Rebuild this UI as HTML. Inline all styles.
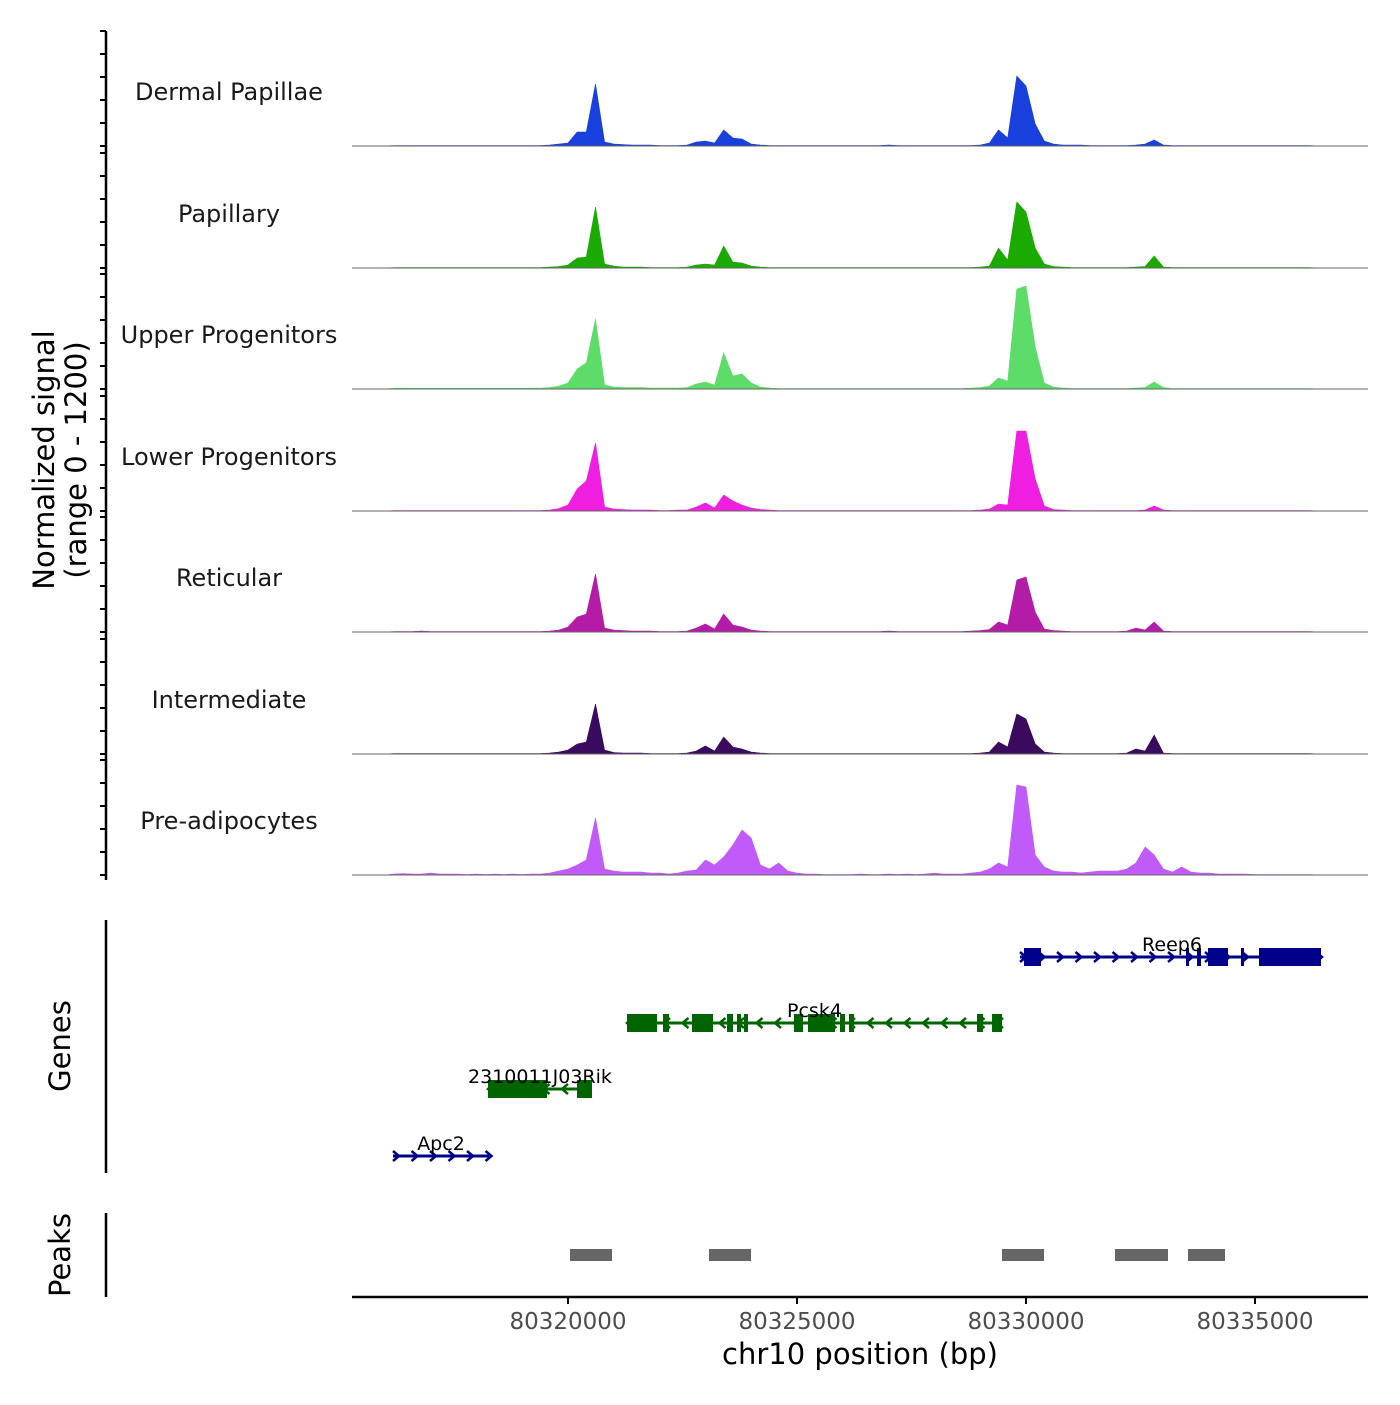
<!DOCTYPE html>
<html><head><meta charset="utf-8"><style>
body{margin:0;background:#fff}
svg text{font-family:"DejaVu Sans","Liberation Sans",sans-serif}
</style></head><body>
<svg id="chart" width="1400" height="1400" viewBox="0 0 1400 1400" xmlns="http://www.w3.org/2000/svg">
<rect width="1400" height="1400" fill="#fff"/>
<g id="tracks"></g>
<g id="genes"></g>
<g id="peaks"></g>
<g id="axes"></g>
<text transform="translate(54,460) rotate(-90)" text-anchor="middle" font-size="29" fill="#000">Normalized signal</text>
<text transform="translate(86,460) rotate(-90)" text-anchor="middle" font-size="29" fill="#000">(range 0 - 1200)</text>
<text transform="translate(70,1046) rotate(-90)" text-anchor="middle" font-size="29" fill="#000">Genes</text>
<text transform="translate(70,1255) rotate(-90)" text-anchor="middle" font-size="29" fill="#000">Peaks</text>
<text x="860" y="1364" text-anchor="middle" font-size="29" fill="#000">chr10 position (bp)</text>
</svg>
<script>
const binStart = 80316000;
const binStep = 200;
const trackNames = ["Dermal Papillae","Papillary","Upper Progenitors","Lower Progenitors","Reticular","Intermediate","Pre-adipocytes"];
const trackColors = ["#1740DD","#1AAA00","#5EDC6A","#F01EE0","#B41CA8","#3A0A5E","#C05AF8"];
const sigDermal = [0,5,5,5,5,5,5,5,5,5, 5,5,5,5,5,5,5,5,10,20, 30,140,140,620,40,20,15,10,10,10, 5,5,5,10,40,50,30,160,80,70, 20,10,5,5,5,5,5,5,5,5, 5,5,5,5,5,10,5,5,5,5, 5,5,5,5,5,10,30,160,80,700, 600,220,50,20,10,10,10,5,5,5, 5,5,10,20,60,10,5,5,5,5, 5,5,5,5,5,5,5,5,5,5, 5,5,0];
const sigPapillary = [0,5,5,5,5,5,5,5,5,5, 5,5,5,5,5,5,5,5,10,15, 30,100,110,610,40,20,10,10,10,5, 5,5,5,10,30,40,30,220,60,50, 20,10,5,5,5,5,5,5,5,5, 5,5,5,5,5,5,5,5,5,5, 5,5,5,5,5,10,20,200,80,660, 560,200,40,15,10,5,5,5,5,5, 5,5,10,15,120,10,5,5,5,5, 5,5,5,5,5,5,5,5,5,5, 5,5,0];
const sigUpper = [0,8,8,8,8,8,8,8,8,8, 8,8,8,8,8,8,8,8,15,30, 60,200,260,700,40,20,15,15,15,10, 10,10,10,15,50,70,40,360,130,150, 60,20,10,5,5,5,5,5,5,5, 5,5,5,5,5,5,5,5,5,5, 5,5,5,5,10,15,30,110,80,1000, 1030,420,60,20,10,5,5,5,5,5, 5,5,10,15,70,15,5,5,5,5, 5,5,5,5,5,5,5,5,5,5, 5,5,0];
const sigLower = [0,5,5,5,5,5,5,5,5,5, 5,5,5,5,5,5,5,5,10,25, 60,220,300,680,40,20,15,10,10,10, 5,5,10,10,40,80,30,160,100,60, 30,15,10,5,5,5,5,5,5,5, 5,5,5,5,5,5,5,5,5,5, 5,5,5,5,5,10,20,70,60,800, 800,320,50,15,10,5,5,5,5,5, 5,5,5,10,50,10,5,5,5,5, 5,5,5,5,5,5,5,5,5,5, 5,5,0];
const sigReticular = [0,5,5,5,10,5,5,5,5,5, 5,5,5,5,5,5,5,5,10,20, 50,150,180,580,40,20,15,10,10,10, 5,5,5,10,40,80,30,180,70,50, 20,10,5,5,5,5,5,5,5,5, 5,5,5,5,5,10,5,5,5,5, 5,5,5,5,10,15,25,100,70,520, 550,200,30,15,10,5,5,5,5,5, 5,10,40,20,100,10,5,5,5,5, 5,5,5,5,5,5,5,5,5,5, 5,5,0];
const sigIntermediate = [0,5,5,5,5,5,5,5,5,5, 5,5,5,5,5,5,5,5,10,20, 40,100,120,500,40,15,10,10,10,5, 5,5,5,10,30,80,30,170,70,50, 20,10,5,5,5,5,5,5,5,5, 5,5,5,5,5,5,5,5,5,5, 5,5,5,5,5,10,20,120,70,400, 350,100,20,10,5,5,5,5,5,5, 5,10,50,30,190,10,5,5,5,5, 5,5,5,5,5,5,5,5,5,5, 5,5,0];
const sigPreadipo = [0,10,15,10,10,20,10,10,10,5, 10,5,10,5,10,5,10,10,20,40, 60,100,150,570,60,40,30,30,30,20, 20,10,20,40,50,150,100,180,300,450, 370,100,60,120,40,20,10,10,5,5, 5,5,10,5,5,10,5,10,5,10, 20,10,10,10,20,30,60,120,80,900, 880,200,80,40,30,30,20,30,40,40, 40,60,120,280,200,60,30,80,30,20, 20,10,10,10,10,5,5,5,5,5, 5,5,0];
const allSignals = [sigDermal,sigPapillary,sigUpper,sigLower,sigReticular,sigIntermediate,sigPreadipo];
const xTicks = [80320000,80325000,80330000,80335000];
const geneNames = ["Reep6","Pcsk4","2310011J03Rik","Apc2"];
const geneStrand = [1,-1,-1,1];
const geneColors = ["#00008B","#006400","#006400","#00008B"];
const geneStart = [80329869,80321288,80318253,80316179];
const geneEnd = [80336441,80329476,80320524,80318275];
const geneExons = [
 [[80329956,80330327],[80333493,80333559],[80333734,80333821],[80333974,80334410],[80334694,80334759],[80335087,80336441]],
 [[80321288,80321943],[80322074,80322205],[80322707,80323166],[80323472,80323603],[80323690,80323777],[80323843,80323930],[80324934,80325131],[80325240,80325830],[80325939,80326048],[80326135,80326245],[80328930,80329061],[80329258,80329476]],
 [[80318253,80319541],[80320197,80320524]],
 []
];
const peakStart = [80320044,80323079,80329476,80331943,80333537];
const peakEnd = [80320961,80323996,80330393,80333100,80334345];

const NS="http://www.w3.org/2000/svg";
const X0=352,X1=1368,BP0=80315284,BP1=80337467;
function xs(bp){return X0+(bp-BP0)/(BP1-BP0)*(X1-X0);}
const baselines=[146,268,389,511,632,754,875];
function ys(v,i){return baselines[i]-v/1200*120;}
function mk(tag,attrs,parent){const e=document.createElementNS(NS,tag);for(const k in attrs)e.setAttribute(k,attrs[k]);parent.appendChild(e);return e;}

const tg=document.getElementById('tracks');
allSignals.forEach((sig,i)=>{
  let d='M'+xs(binStart)+','+baselines[i];
  sig.forEach((v,j)=>{d+=' L'+xs(binStart+j*binStep).toFixed(1)+','+ys(v,i).toFixed(1);});
  d+=' L'+xs(binStart+(sig.length-1)*binStep)+','+baselines[i]+' Z';
  const p=mk('path',{d:d,fill:trackColors[i],stroke:trackColors[i],'stroke-width':0.6},tg);
  
  
  const bl=mk('line',{x1:X0,x2:X1,y1:baselines[i],y2:baselines[i],stroke:'#666','stroke-width':1},tg);
  
  
  const t=mk('text',{x:229,y:baselines[i]-46,'text-anchor':'middle','font-size':24,fill:'#1a1a1a'},tg);
  t.textContent=trackNames[i];
  
  
});

const gg=document.getElementById('genes');
const geneY=[957,1023,1089,1156];
geneNames.forEach((n,i)=>{
  const y=geneY[i],c=geneColors[i];
  const ln=mk('line',{x1:xs(geneStart[i]),x2:xs(geneEnd[i]),y1:y,y2:y,stroke:c,'stroke-width':3},gg);
  
  
  const a=xs(geneStart[i]),b=xs(geneEnd[i]);
  for(let x=a+3;x<=b;x+=18.5){
    const s=geneStrand[i];
    const ch=mk('path',{d:`M${x-3*s},${y-5} L${x+3*s},${y} L${x-3*s},${y+5}`,fill:'none',stroke:c,'stroke-width':2.5},gg);
    
    
  }
  geneExons[i].forEach(e=>{
    const r=mk('rect',{x:xs(e[0]),y:y-9,width:Math.max(3,xs(e[1])-xs(e[0])),height:18,fill:c},gg);
    
    
  });
  const t=mk('text',{x:(a+b)/2,y:y-6,'text-anchor':'middle','font-size':19,fill:'#000'},gg);
  if(i===0)t.setAttribute('x',1172);
  t.textContent=n;
  
  
});

const pg=document.getElementById('peaks');
peakStart.forEach((s,i)=>{
  const r=mk('rect',{x:xs(s),y:1249,width:xs(peakEnd[i])-xs(s),height:12,fill:'#666'},pg);
  
  
});

const ag=document.getElementById('axes');
mk('line',{x1:106,x2:106,y1:31,y2:880,stroke:'#000','stroke-width':2.5},ag);
baselines.forEach(b=>{for(let k=0;k<6;k++){mk('line',{x1:100,x2:106,y1:b-k*23,y2:b-k*23,stroke:'#000','stroke-width':2},ag);}});
mk('line',{x1:106,x2:106,y1:920,y2:1173,stroke:'#000','stroke-width':2.5},ag);
mk('line',{x1:106,x2:106,y1:1213,y2:1297,stroke:'#000','stroke-width':2.5},ag);
mk('line',{x1:X0,x2:X1,y1:1297,y2:1297,stroke:'#000','stroke-width':2.5},ag);
xTicks.forEach(v=>{
  mk('line',{x1:xs(v),x2:xs(v),y1:1297,y2:1304,stroke:'#000','stroke-width':2},ag);
  const t=mk('text',{x:xs(v),y:1329,'text-anchor':'middle','font-size':23,fill:'#4d4d4d'},ag);
  t.textContent=v;
  
  
});
</script>
</body></html>
